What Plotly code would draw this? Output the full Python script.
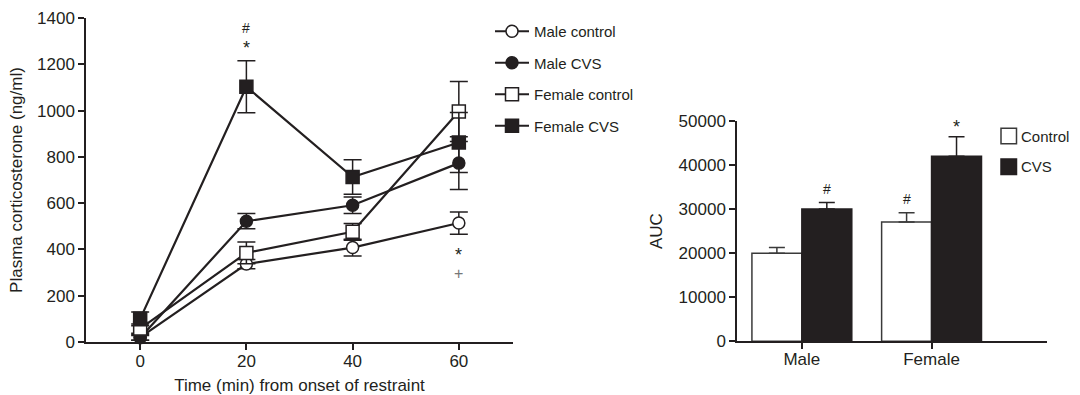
import plotly.graph_objects as go

# Time course of plasma corticosterone (ng/ml)
times = [0, 20, 40, 60]
male_control = [20, 337, 408, 514]
male_control_err = [12, 20, 36, 48]
male_cvs = [18, 522, 591, 773]
male_cvs_err = [10, 33, 36, 114]
female_control = [58, 385, 476, 996]
female_control_err = [20, 47, 36, 130]
female_cvs = [100, 1103, 713, 862]
female_cvs_err = [30, 112, 75, 130]

# Integrated response (area under the curve)
sexes = ["Male", "Female"]
auc_control = [20000, 27100]
auc_control_err = [1300, 2100]
auc_cvs = [30000, 42000]
auc_cvs_err = [1500, 4400]

INK = "#231f20"
OUTLINE = "#3a3a3a"
FONT = "Liberation Sans, Arial, Helvetica, sans-serif"

fig = go.Figure()

series = [
    ("Male control", male_control, male_control_err, "circle", "white"),
    ("Male CVS", male_cvs, male_cvs_err, "circle", INK),
    ("Female control", female_control, female_control_err, "square", "white"),
    ("Female CVS", female_cvs, female_cvs_err, "square", INK),
]
for name, ys, errs, symbol, fill in series:
    fig.add_trace(go.Scatter(
        x=times, y=ys, name=name, mode="lines+markers",
        legendgroup=name, legend="legend",
        line=dict(color=INK, width=2.2),
        marker=dict(symbol=symbol, size=13 if symbol == "square" else 12,
                    color=fill, line=dict(color=INK, width=1.5)),
        error_y=dict(type="data", array=errs, visible=True,
                     color=INK, thickness=1.5, width=9),
        cliponaxis=False,
        xaxis="x", yaxis="y",
    ))

fig.add_trace(go.Bar(
    x=sexes, y=auc_control, name="Control", showlegend=False,
    marker=dict(color="white", line=dict(color=OUTLINE, width=1.5)),
    error_y=dict(type="data", array=auc_control_err,
                 arrayminus=[0] * len(auc_control_err), symmetric=False,
                 color=OUTLINE, thickness=1.5, width=8),
    xaxis="x2", yaxis="y2",
))
fig.add_trace(go.Bar(
    x=sexes, y=auc_cvs, name="CVS", showlegend=False,
    marker=dict(color=INK, line=dict(color=INK, width=1.5)),
    error_y=dict(type="data", array=auc_cvs_err,
                 arrayminus=[0] * len(auc_cvs_err), symmetric=False,
                 color=INK, thickness=1.5, width=8),
    xaxis="x2", yaxis="y2",
))

axis_common = dict(
    showline=True, linecolor=INK, linewidth=1.5,
    ticks="outside", ticklen=6, tickwidth=1.5, tickcolor=INK,
    showgrid=False, zeroline=False, automargin=False,
    tickfont=dict(family=FONT, size=17, color=INK),
)

annotations = [
    dict(x=20, y=1355, text="#", xref="x", yref="y", showarrow=False,
         font=dict(family=FONT, size=14, color=INK)),
    dict(x=20, y=1270, text="*", xref="x", yref="y", showarrow=False,
         font=dict(family=FONT, size=18, color=INK)),
    dict(x=60, y=376, text="*", xref="x", yref="y", showarrow=False,
         font=dict(family=FONT, size=18, color=INK)),
    dict(x=60, y=298, text="+", xref="x", yref="y", showarrow=False,
         font=dict(family=FONT, size=16, color="#777777")),
    dict(x=0.192, y=34500, text="#", xref="x2", yref="y2", showarrow=False,
         font=dict(family=FONT, size=14, color=INK)),
    dict(x=0.808, y=32200, text="#", xref="x2", yref="y2", showarrow=False,
         font=dict(family=FONT, size=14, color=INK)),
    dict(x=1.192, y=48700, text="*", xref="x2", yref="y2", showarrow=False,
         font=dict(family=FONT, size=18, color=INK)),
]

# Key for the AUC bars: filled/open swatches with labels
shapes = []
key_rows = [("Control", "white", OUTLINE, 136), ("CVS", INK, INK, 166.7)]
for label, fill, edge, cy in key_rows:
    shapes.append(dict(
        type="rect", xref="paper", yref="paper",
        x0=1001 / 1080, x1=1016.5 / 1080,
        y0=1 - (cy + 7.75) / 395, y1=1 - (cy - 7.75) / 395,
        fillcolor=fill, line=dict(color=edge, width=1.5),
    ))
    annotations.append(dict(
        x=1019 / 1080, y=1 - cy / 395, xref="paper", yref="paper",
        xanchor="left", yanchor="middle", text=label, showarrow=False,
        font=dict(family=FONT, size=15, color=INK),
    ))

fig.update_layout(
    width=1080, height=395,
    margin=dict(l=0, r=0, t=0, b=0, autoexpand=False),
    paper_bgcolor="white", plot_bgcolor="white",
    font=dict(family=FONT, color=INK),
    barmode="group", bargap=0.23, bargroupgap=0,
    xaxis=dict(
        domain=[86 / 1080, 513 / 1080], range=[-10.2, 70.2],
        tickvals=[0, 20, 40, 60], anchor="y", ticklabelstandoff=-3,
        title=dict(text="Time (min) from onset of restraint",
                   font=dict(family=FONT, size=17, color=INK), standoff=10),
        **axis_common,
    ),
    yaxis=dict(
        domain=[53 / 395, 377 / 395], range=[0, 1400],
        tickvals=[0, 200, 400, 600, 800, 1000, 1200, 1400], anchor="x",
        title=dict(text="Plasma corticosterone (ng/ml)",
                   font=dict(family=FONT, size=17, color=INK), standoff=10),
        **axis_common,
    ),
    xaxis2=dict(
        domain=[737 / 1080, 1047 / 1080], range=[-0.5, 1.89],
        type="category", anchor="y2", ticklabelstandoff=-4,
        **axis_common,
    ),
    yaxis2=dict(
        domain=[53.7 / 395, 274 / 395], range=[0, 50000],
        tickvals=[0, 10000, 20000, 30000, 40000, 50000], tickformat="d",
        anchor="x2",
        title=dict(text="AUC", font=dict(family=FONT, size=17, color=INK),
                   standoff=12),
        **axis_common,
    ),
    legend=dict(
        x=490 / 1080, y=1 - 15 / 395, xanchor="left", yanchor="top",
        font=dict(family=FONT, size=15, color=INK),
        tracegroupgap=9, itemwidth=34, bgcolor="rgba(0,0,0,0)",
    ),
    annotations=annotations,
    shapes=shapes,
    showlegend=True,
)

fig.write_html("out.html")
